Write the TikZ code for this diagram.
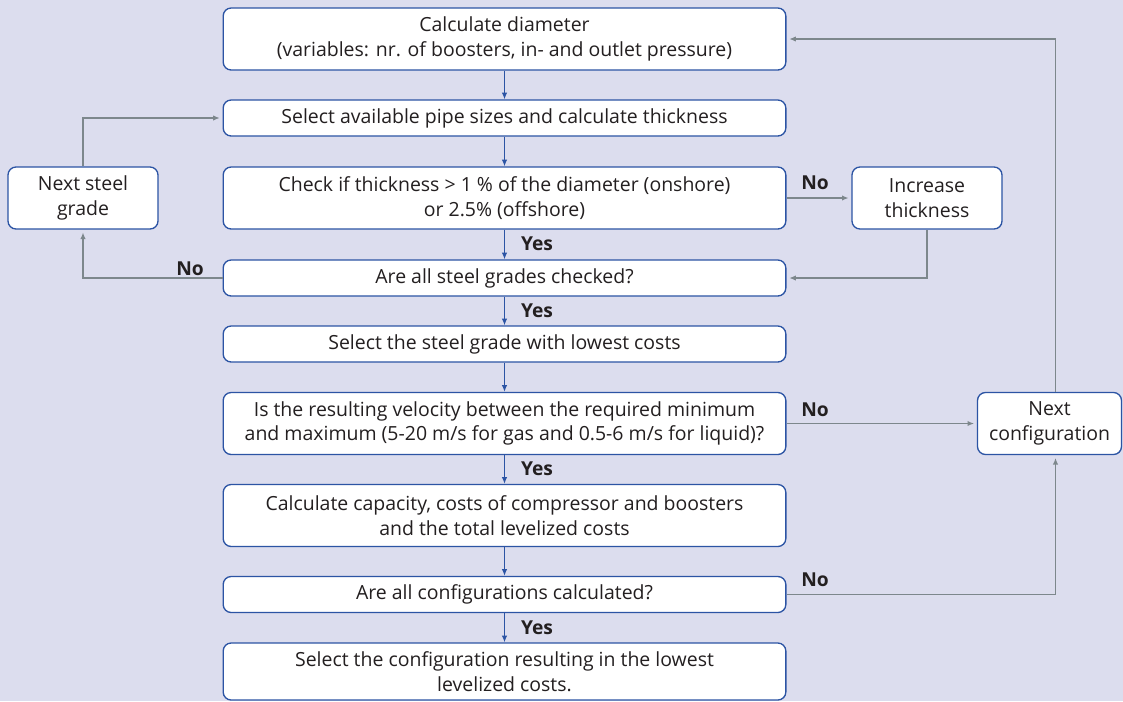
\documentclass[tikz,border=0pt]{standalone}
\usepackage{fontspec}
\setmainfont{Open Sans}
\usetikzlibrary{arrows.meta}
\definecolor{bgback}{RGB}{220,221,238}
\definecolor{boxblue}{RGB}{44,84,164}
\definecolor{linegray}{RGB}{125,135,140}
\definecolor{txt}{RGB}{35,31,32}
\begin{document}
\begin{tikzpicture}[x=0.75pt,y=-0.75pt,>={Latex[length=5pt,width=4pt]},
	box/.style={draw=boxblue,line width=1pt,fill=white,rounded corners=6pt,align=center,text=txt,font=\fontsize{14.6}{18.5}\selectfont,inner sep=0pt},
	wide/.style={box,minimum width=422pt},
	small/.style={box,minimum width=112.5pt},
	lbl/.style={font=\fontsize{14.4}{16}\selectfont\bfseries,text=txt},
	flow/.style={->,boxblue,line width=0.8pt},
	back/.style={->,linegray,line width=1pt,shorten >=2pt}]
		\fill[bgback] (0,0) rectangle (1123,701);
		\useasboundingbox (0,0) rectangle (1123,701);
		
		\node[wide,minimum height=46.5pt] (diam) at (504.5,39) {Calculate diameter\\(variables: nr. of boosters, in- and outlet pressure)};
		\node[wide,minimum height=27pt] (sizes) at (504.5,118) {Select available pipe sizes and calculate thickness};
		\node[wide,minimum height=46.5pt] (check) at (504.5,198) {Check if thickness > 1 \% of the diameter (onshore)\\or 2.5\% (offshore)};
		\node[wide,minimum height=27pt] (grades) at (504.5,278) {Are all steel grades checked?};
		\node[wide,minimum height=27pt] (lowest) at (504.5,344) {Select the steel grade with lowest costs};
		\node[wide,minimum height=46.5pt] (velo) at (504.5,423.5) {Is the resulting velocity between the required minimum\\and maximum (5-20 m/s for gas and 0.5-6 m/s for liquid)?};
		\node[wide,minimum height=46.5pt] (capac) at (504.5,515.5) {Calculate capacity, costs of compressor and boosters\\and the total levelized costs};
		\node[wide,minimum height=27pt] (allconf) at (504.5,594.5) {Are all configurations calculated?};
		\node[wide,minimum height=42.75pt] (final) at (504.5,671.5) {Select the configuration resulting in the lowest\\levelized costs.};
		
		\node[small,minimum height=46.5pt] (steel) at (83,198) {Next steel\\grade};
		\node[small,minimum height=46.5pt] (thick) at (927,198) {Increase\\thickness};
		\node[small,minimum width=108pt,minimum height=46.5pt] (nextconf) at (1049.5,423.5) {Next\\configuration};
		
		\draw[flow] (diam.south) -- (sizes.north);
		\draw[flow] (sizes.south) -- (check.north);
		\draw[flow] (check.south) -- (grades.north);
		\draw[flow] (grades.south) -- (lowest.north);
		\draw[flow] (lowest.south) -- (velo.north);
		\draw[flow] (velo.south) -- (capac.north);
		\draw[flow] (capac.south) -- (allconf.north);
		\draw[flow] (allconf.south) -- (final.north);
		
		\draw[back] (steel.north) |- (sizes.west);
		\draw[back] (grades.west) -| (steel.south);
		\draw[back] (check.east) -- (thick.west);
		\draw[back] (thick.south) |- (grades.east);
		\draw[back] (velo.east) -- (nextconf.west);
		\draw[back] (allconf.east) -| ([xshift=4.5pt]nextconf.south);
		\draw[back] ([xshift=4.5pt]nextconf.north) |- (diam.east);
		
		\node[lbl] (yes1) at (537,244) {Yes};
		\node[lbl] (yes2) at (537,311) {Yes};
		\node[lbl] (yes3) at (537,469) {Yes};
		\node[lbl] (yes4) at (537,628) {Yes};
		\node[lbl] (no1) at (815,183) {No};
		\node[lbl] (no2) at (190,269) {No};
		\node[lbl] (no3) at (815,410) {No};
		\node[lbl] (no4) at (815,580) {No};
		
		\end{tikzpicture}
\end{document}
